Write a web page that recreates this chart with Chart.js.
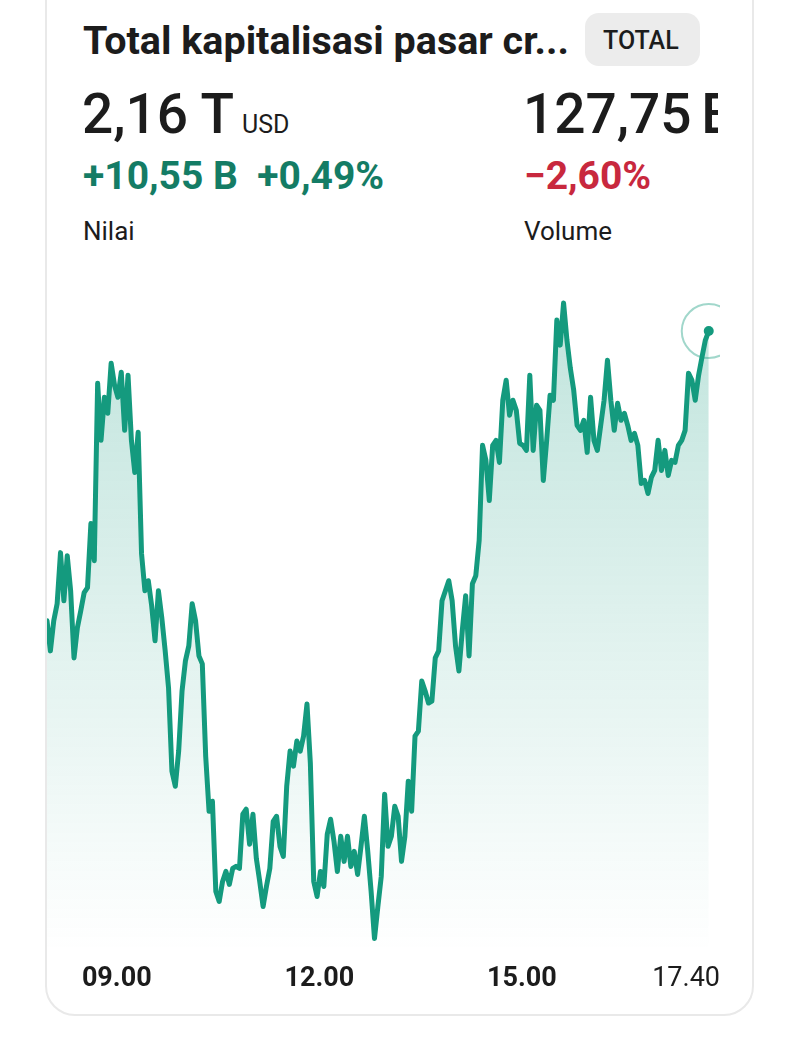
<!DOCTYPE html>
<html>
<head>
<meta charset="utf-8">
<script src="https://cdn.jsdelivr.net/npm/chart.js@4.4.1/dist/chart.umd.min.js"></script>
<style>
  html, body { margin: 0; padding: 0; background: #fff; }
  body { width: 800px; height: 1047px; position: relative; overflow: hidden; font-family: Roboto, "Noto Sans", sans-serif; color: #1c1c1c; }
  .card { position: absolute; left: 45px; top: -40px; width: 709px; height: 1056px; border: 2px solid #e9e9e9; border-radius: 30px; box-sizing: border-box; }
  .t { position: absolute; white-space: nowrap; line-height: 1; }
  .badge { position: absolute; left: 585px; top: 13px; width: 115px; height: 53px; background: #ececec; border-radius: 14px; }
  .clip { position: absolute; left: 520px; top: 80px; width: 198px; height: 70px; overflow: hidden; }
  #wrap { position: absolute; left: 18px; top: 266px; }
</style>
</head>
<body>
<div class="card"></div>
<div class="t" style="left:83px;top:21px;font-size:39.5px;font-weight:700;">Total kapitalisasi pasar cr...</div>
<div class="badge"></div>
<div class="t" style="left:603px;top:28px;font-size:25px;font-weight:500;">TOTAL</div>

<div class="t" style="left:82px;top:87px;font-size:55px;font-weight:500;">2,16 T</div>
<div class="t" style="left:242px;top:112px;font-size:25px;font-weight:400;">USD</div>
<div class="clip"><div class="t" style="left:3px;top:7px;font-size:55px;font-weight:500;word-spacing:-4px;">127,75 B</div></div>

<div class="t" style="left:83px;top:157px;font-size:39px;font-weight:700;color:#147c65;">+10,55 B&nbsp; +0,49%</div>
<div class="t" style="left:524px;top:157px;font-size:39px;font-weight:700;color:#c8283e;">&minus;2,60%</div>

<div class="t" style="left:83px;top:218px;font-size:26px;">Nilai</div>
<div class="t" style="left:524px;top:218px;font-size:26px;">Volume</div>

<div id="wrap"><canvas id="chart" width="731" height="740"></canvas></div>

<script>
// time of first sample (minutes after midnight, 07.58) and spacing of samples
const startMinute = 478;
const stepMinutes = 3;

// total crypto market cap, billions USD
const marketCap = [
  2131.8, 2128.8, 2131.8, 2133.5, 2138.6, 2133.8, 2138.3, 2134.8, 2128.1, 2131.1,
  2132.8, 2134.6, 2135.1, 2141.5, 2137.8, 2155.5, 2149.8, 2154.1, 2152.5, 2157.5,
  2155.3, 2154.1, 2156.6, 2150.8, 2156.3, 2149.8, 2146.6, 2150.6, 2138.5, 2134.8,
  2135.8, 2133.3, 2129.8, 2134.8, 2132.1, 2128.8, 2125.1, 2116.8, 2115.3, 2118.8,
  2124.8, 2127.8, 2129.3, 2133.5, 2131.8, 2128.3, 2127.5, 2118.3, 2112.8, 2113.8,
  2104.8, 2103.8, 2105.8, 2106.8, 2105.5, 2107.1, 2107.3, 2107.1, 2112.5, 2113.0,
  2109.5, 2112.5, 2108.1, 2105.8, 2103.3, 2105.3, 2107.1, 2111.8, 2112.3, 2109.3,
  2108.3, 2115.3, 2118.8, 2117.3, 2119.8, 2118.8, 2120.3, 2123.5, 2117.6, 2105.8,
  2104.3, 2106.8, 2105.3, 2110.5, 2112.0, 2109.8, 2106.8, 2110.3, 2107.8, 2110.3,
  2107.3, 2108.8, 2106.5, 2109.3, 2112.3, 2108.8, 2104.8, 2100.1, 2103.3, 2106.3,
  2114.5, 2109.3, 2110.3, 2113.3, 2112.3, 2107.8, 2110.3, 2115.8, 2112.8, 2120.3,
  2120.8, 2125.8, 2124.8, 2123.6, 2123.8, 2128.1, 2128.8, 2133.8, 2134.8, 2135.8,
  2133.8, 2129.3, 2126.8, 2130.8, 2134.3, 2128.3, 2135.5, 2136.3, 2139.8, 2149.3,
  2147.8, 2143.8, 2149.3, 2149.8, 2147.6, 2153.8, 2155.8, 2152.3, 2153.8, 2152.8,
  2149.5, 2149.3, 2148.8, 2156.3, 2148.8, 2153.3, 2152.8, 2145.8, 2149.8, 2154.3,
  2153.8, 2161.8, 2159.3, 2163.5, 2159.8, 2157.0, 2154.8, 2151.3, 2150.8, 2151.8,
  2148.6, 2154.1, 2149.8, 2148.8, 2151.3, 2153.8, 2157.8, 2153.8, 2150.8, 2153.5,
  2151.8, 2152.5, 2151.3, 2149.8, 2150.5, 2149.3, 2145.5, 2145.8, 2144.5, 2146.1,
  2146.8, 2149.8, 2146.8, 2148.8, 2146.3, 2147.8, 2147.6, 2149.3, 2149.8, 2150.8,
  2156.5, 2155.8, 2153.8, 2156.3, 2158.1, 2159.8, 2160.7
];

// x axis labels (minutes after midnight) and their texts; the last one is the current time
const tickMinutes = [540, 720, 900];
const tickLabels = ['09.00', '12.00', '15.00', '17.40'];

const lineColor = '#149a7e';
const axisMin = 478;
const axisMax = 1076;

const points = marketCap.map((v, i) => ({ x: startMinute + i * stepMinutes, y: v }));
const lastPoint = points[points.length - 1];

new Chart(document.getElementById('chart'), {
    type: 'line',
    data: {
        datasets: [
            {
                // halo round the latest value
                data: [lastPoint],
                showLine: false,
                clip: 0,
                pointRadius: 27,
                pointBorderWidth: 2,
                pointBorderColor: 'rgba(20,154,126,0.4)',
                pointBackgroundColor: 'rgba(0,0,0,0)'
            },
            {
                data: points,
                borderColor: lineColor,
                borderWidth: 5,
                borderJoinStyle: 'round',
                borderCapStyle: 'round',
                tension: 0,
                fill: 'start',
                backgroundColor: (ctx) => {
                    const area = ctx.chart.chartArea;
                    if (!area) return 'rgba(20,154,126,0.15)';
                    const g = ctx.chart.ctx.createLinearGradient(0, area.top, 0, area.bottom);
                    g.addColorStop(0, 'rgba(20,154,126,0.27)');
                    g.addColorStop(1, 'rgba(20,154,126,0)');
                    return g;
                },
                pointRadius: (ctx) => ctx.dataIndex === marketCap.length - 1 ? 5 : 0,
                pointBorderWidth: 0,
                pointBackgroundColor: lineColor
            }
        ]
    },
    options: {
        responsive: false,
        devicePixelRatio: 1,
        animation: false,
        layout: { padding: 0 },
        plugins: { legend: { display: false }, tooltip: { enabled: false } },
        scales: {
            x: {
                type: 'linear',
                min: axisMin,
                max: axisMax,
                grid: { display: false, drawTicks: false },
                border: { display: false },
                afterBuildTicks: (scale) => {
                    scale.ticks = [axisMin, ...tickMinutes, axisMax].map(v => ({ value: v }));
                },
                ticks: {
                    align: 'inner',
                    autoSkip: false,
                    maxRotation: 0,
                    padding: 11,
                    color: '#1c1c1c',
                    font: (ctx) => ({
                        family: 'Roboto',
                        size: 27,
                        weight: ctx.index === 4 ? 'normal' : 'bold'
                    }),
                    callback: (value, index) => index === 0 ? '' : tickLabels[index - 1]
                }
            },
            y: {
                display: false,
                min: 2098.8,
                max: 2164.3
            }
        }
    }
});
</script>
</body>
</html>
